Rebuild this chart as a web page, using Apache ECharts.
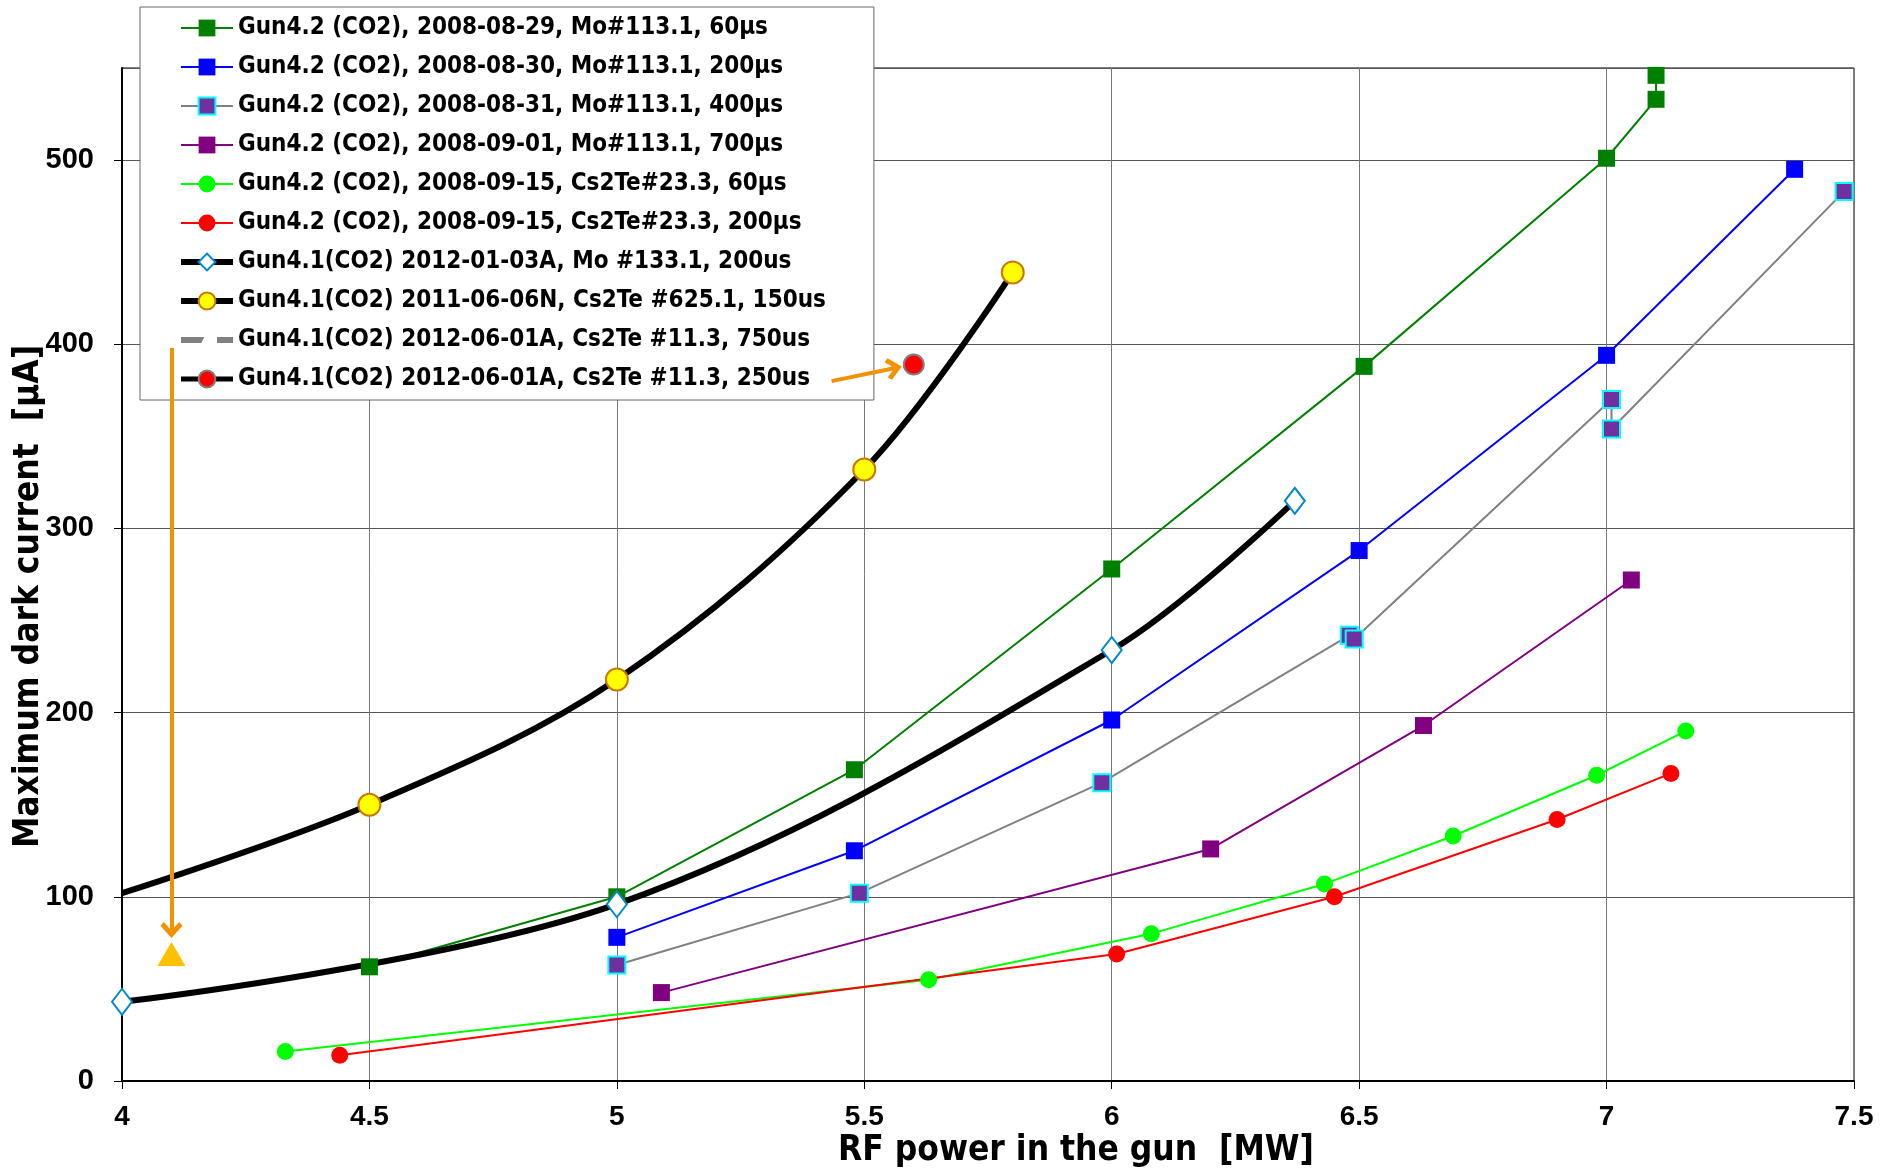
<!DOCTYPE html>
<html>
<head>
<meta charset="utf-8">
<script src="https://cdn.jsdelivr.net/npm/echarts@6/dist/echarts.min.js"></script>
<style>
  html, body { margin: 0; padding: 0; background: #fff; }
  #chart { width: 1881px; height: 1172px; }
</style>
</head>
<body>
<div id="chart"></div>
<script>
// 数据 (RF power [MW], max dark current [uA])
var names = [
  'Gun4.2 (CO2), 2008-08-29, Mo#113.1, 60µs',
  'Gun4.2 (CO2), 2008-08-30, Mo#113.1, 200µs',
  'Gun4.2 (CO2), 2008-08-31, Mo#113.1, 400µs',
  'Gun4.2 (CO2), 2008-09-01, Mo#113.1, 700µs',
  'Gun4.2 (CO2), 2008-09-15, Cs2Te#23.3, 60µs',
  'Gun4.2 (CO2), 2008-09-15, Cs2Te#23.3, 200µs',
  'Gun4.1(CO2) 2012-01-03A, Mo #133.1, 200us',
  'Gun4.1(CO2) 2011-06-06N, Cs2Te #625.1, 150us',
  'Gun4.1(CO2) 2012-06-01A, Cs2Te #11.3, 750us',
  'Gun4.1(CO2) 2012-06-01A, Cs2Te #11.3, 250us'
];
var mo60 = [[4.5, 62], [5.0, 100], [5.48, 169], [6.0, 278], [6.51, 388], [7.0, 501], [7.1, 533], [7.1, 546]];
var mo200 = [[5.0, 78], [5.48, 125], [6.0, 196], [6.5, 288], [7.0, 394], [7.38, 495]];
var mo400 = [[5.0, 63], [5.49, 102], [5.98, 162], [6.48, 242], [6.49, 240], [7.01, 370], [7.01, 354], [7.48, 483]];
var mo700 = [[5.09, 48], [6.2, 126], [6.63, 193], [7.05, 272]];
var cs60 = [[4.33, 16], [5.63, 55], [6.08, 80], [6.43, 107], [6.69, 133], [6.98, 166], [7.16, 190]];
var cs200 = [[4.44, 14], [6.01, 69], [6.45, 100], [6.9, 142], [7.13, 167]];
var gun41Mo = [[4.0, 43], [5.0, 96], [6.0, 234], [6.37, 315]];
var gun41Cs150 = [[4.0, 102], [4.5, 150], [5.0, 218], [5.5, 332], [5.8, 439]];
var gun41Cs750 = [[4.1, 69]];
var gun41Cs250 = [[5.6, 389]];

var narrow = "'Liberation Sans Narrow', 'DejaVu Sans Condensed', sans-serif";
var arial = "'Liberation Sans', Arial, sans-serif";
var orange = '#F39200';
var chevron = 'path://M0,10 L10,0 L20,10 L17,13 L10,6 L3,13 Z';

var myChart = echarts.init(document.getElementById('chart'));

function thin(i, data, color, sym) {
  return {
    name: names[i], type: 'line', data: data,
    symbol: 'rect', symbolSize: 17,
    lineStyle: { color: color, width: 2 },
    itemStyle: sym || { color: color },
    emphasis: { disabled: true }
  };
}

var cs150Data = gun41Cs150.map(function (p, i) {
  // 左端点在坐标轴上, 无标记
  return i === 0 ? { value: p, symbol: 'none' } : p;
});

var legendData = names.map(function (n, i) {
  if (i === 6 || i === 7) return { name: n, lineStyle: { width: 6 } };
  if (i === 8) return { name: n, lineStyle: { width: 6, type: 'dashed' } };
  if (i === 9) return { name: n, lineStyle: { width: 5 } };
  return { name: n };
});

var option = {
  animation: false,
  grid: {
    left: 122, right: 27, top: 68, bottom: 91, outerBoundsMode: 'none',
    show: true, borderColor: '#000', borderWidth: 1
  },
  legend: {
    orient: 'vertical', left: 140, top: 7,
    padding: [6, 48, 6, 38],
    backgroundColor: '#fff', borderColor: '#666', borderWidth: 1,
    itemWidth: 52, itemHeight: 21, itemGap: 9,
    textStyle: { fontFamily: narrow, fontWeight: 'bold', fontSize: 24, color: '#000', lineHeight: 30 },
    data: legendData
  },
  xAxis: {
    type: 'value', min: 4, max: 7.5, interval: 0.5,
    name: 'RF power in the gun  [MW]', nameLocation: 'middle', nameGap: 52, nameMoveOverlap: false,
    nameTextStyle: { fontFamily: narrow, fontWeight: 'bold', fontSize: 35, color: '#000', padding: [0, 0, 0, 176] },
    axisLine: { onZero: false, lineStyle: { color: '#000', width: 2 } },
    axisTick: { show: true, length: 8, lineStyle: { color: '#000' } },
    axisLabel: { margin: 22, fontFamily: arial, fontWeight: 'bold', fontSize: 28, color: '#000' },
    splitLine: { show: true, lineStyle: { color: '#777', width: 1 } }
  },
  yAxis: {
    type: 'value', min: 0, max: 550, interval: 100,
    name: 'Maximum dark current  [µA]', nameLocation: 'middle', nameGap: 76, nameMoveOverlap: false,
    nameTextStyle: { fontFamily: narrow, fontWeight: 'bold', fontSize: 35, color: '#000', padding: [0, 44, 0, 0] },
    axisLine: { show: true, onZero: false, lineStyle: { color: '#000', width: 2 } },
    axisTick: { show: true, length: 8, lineStyle: { color: '#000' } },
    axisLabel: {
      margin: 28, fontFamily: arial, fontWeight: 'bold', fontSize: 29, color: '#000',
      showMaxLabel: false
    },
    splitLine: { show: true, lineStyle: { color: '#555', width: 1 } }
  },
  series: [
    thin(0, mo60, '#008000'),
    thin(1, mo200, '#0000FF'),
    thin(2, mo400, '#808080', { color: '#7030A0', borderColor: '#00FFFF', borderWidth: 2 }),
    thin(3, mo700, '#800080'),
    Object.assign(thin(4, cs60, '#00FF00'), { symbol: 'circle', symbolSize: 17 }),
    Object.assign(thin(5, cs200, '#FF0000'), { symbol: 'circle', symbolSize: 17 }),
    {
      name: names[6], type: 'line', data: gun41Mo, smooth: 0.35,
      symbol: 'diamond', symbolSize: [20, 26],
      lineStyle: { color: '#000', width: 6 },
      itemStyle: { color: '#fff', borderColor: '#0088CC', borderWidth: 2 },
      emphasis: { disabled: true }
    },
    {
      name: names[7], type: 'line', data: cs150Data, smooth: 0.35,
      symbol: 'circle', symbolSize: 22,
      lineStyle: { color: '#000', width: 6 },
      itemStyle: { color: '#FFFF00', borderColor: '#C87800', borderWidth: 2 },
      emphasis: { disabled: true }
    },
    {
      name: names[8], type: 'line', data: gun41Cs750.map(function (p) {
        return { value: p, itemStyle: { color: '#FFC000', borderWidth: 0 } };
      }),
      symbol: 'triangle', symbolSize: [28, 24],
      lineStyle: { color: '#808080', width: 6, type: 'dashed' },
      itemStyle: { color: '#fff', borderColor: '#fff' },
      emphasis: { disabled: true },
      markLine: {
        silent: true, z: 10, animation: false,
        symbol: ['none', chevron], symbolSize: [22, 16],
        lineStyle: { color: orange, width: 4, type: 'solid' },
        label: { show: false },
        data: [[{ coord: [4.1, 398] }, { coord: [4.1, 82] }]]
      }
    },
    {
      name: names[9], type: 'line', data: gun41Cs250,
      symbol: 'circle', symbolSize: 20,
      lineStyle: { color: '#000', width: 4 },
      itemStyle: { color: '#FF0000', borderColor: '#808080', borderWidth: 2 },
      emphasis: { disabled: true },
      markLine: {
        silent: true, z: 10, animation: false,
        symbol: ['none', chevron], symbolSize: [22, 16],
        lineStyle: { color: orange, width: 4, type: 'solid' },
        label: { show: false },
        data: [[{ coord: [5.434, 380] }, { coord: [5.56, 387] }]]
      }
    }
  ]
};

myChart.setOption(option);
</script>
</body>
</html>
